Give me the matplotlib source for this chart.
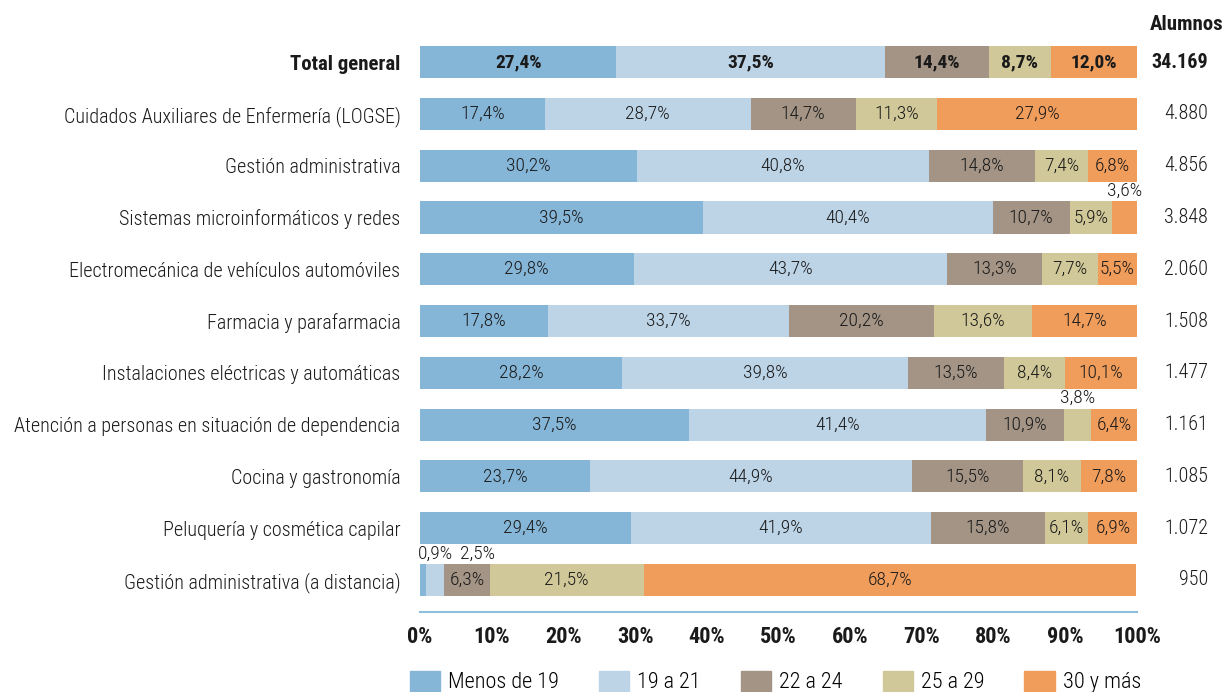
import numpy as np
import matplotlib
matplotlib.use('Agg')
import matplotlib.pyplot as plt
from matplotlib.patches import Patch

plt.rcParams['font.family'] = ['Roboto Condensed', 'Liberation Sans', 'DejaVu Sans']

categories = ['Total general',
              'Cuidados Auxiliares de Enfermería (LOGSE)',
              'Gestión administrativa',
              'Sistemas microinformáticos y redes',
              'Electromecánica de vehículos automóviles',
              'Farmacia y parafarmacia',
              'Instalaciones eléctricas y automáticas',
              'Atención a personas en situación de dependencia',
              'Cocina y gastronomía',
              'Peluquería y cosmética capilar',
              'Gestión administrativa (a distancia)']
alumnos = ['34.169', '4.880', '4.856', '3.848', '2.060', '1.508', '1.477',
           '1.161', '1.085', '1.072', '950']

groups = ['Menos de 19', '19 a 21', '22 a 24', '25 a 29', '30 y más']
menos19 = [27.4, 17.4, 30.2, 39.5, 29.8, 17.8, 28.2, 37.5, 23.7, 29.4, 0.9]
de19a21 = [37.5, 28.7, 40.8, 40.4, 43.7, 33.7, 39.8, 41.4, 44.9, 41.9, 2.5]
de22a24 = [14.4, 14.7, 14.8, 10.7, 13.3, 20.2, 13.5, 10.9, 15.5, 15.8, 6.3]
de25a29 = [8.7, 11.3, 7.4, 5.9, 7.7, 13.6, 8.4, 3.8, 8.1, 6.1, 21.5]
mas30 = [12.0, 27.9, 6.8, 3.6, 5.5, 14.7, 10.1, 6.4, 7.8, 6.9, 68.7]
colors = ['#86b6d7', '#bdd4e7', '#a39485', '#d0c898', '#f09d5c']

series = [menos19, de19a21, de22a24, de25a29, mas30]
fig = plt.figure(figsize=(12.26, 6.92), dpi=100)
ax = fig.add_axes([0.3426, 0.1156, 0.5848, 0.8394])

y = np.arange(len(categories))
left = np.zeros(len(categories))
txt = '#1a1a1a'
# offsets (points) for the crowded labels of the last row
shift_last = [9, 30]
for k, vals in enumerate(series):
    vals = np.array(vals)
    ax.barh(y, vals, left=left, height=0.62, color=colors[k], linewidth=0)
    for i, v in enumerate(vals):
        lab = f'{v:.1f}'.replace('.', ',') + '%'
        cx = left[i] + v / 2
        if v < 5:
            # small segments: label above the bar
            dx = shift_last[k] if i == len(categories) - 1 else 0
            ax.annotate(lab, (cx, y[i] - 0.31), xytext=(dx, 1), textcoords='offset points',
                        ha='center', va='bottom', fontsize=14, color=txt, fontweight=300)
        else:
            ax.text(cx, y[i], lab, ha='center', va='center', fontsize=14,
                    color=txt, fontweight='bold' if i == 0 else 300)
    left = left + vals

ax.set_xlim(0, 100)
ax.set_ylim(10.62, -0.6)
ax.set_yticks(y)
ax.set_yticklabels(categories, fontsize=14.5, color=txt, fontweight=300)
ax.get_yticklabels()[0].set_fontweight('bold')
ax.get_yticklabels()[0].set_fontsize(15)
ax.tick_params(axis='y', length=0, pad=14)
ax.set_xticks(np.arange(0, 101, 10))
ax.set_xticklabels([f'{t}%' for t in range(0, 101, 10)], fontsize=16,
                   fontweight='bold', color=txt)
ax.tick_params(axis='x', length=0, pad=10)
for s in ['top', 'right', 'left']:
    ax.spines[s].set_visible(False)
ax.spines['bottom'].set_color('#8dbfdc')
ax.spines['bottom'].set_linewidth(1.5)

trans = ax.get_yaxis_transform()
for i, n in enumerate(alumnos):
    ax.text(1.099, y[i], n, transform=trans, ha='right', va='center', fontsize=14.5,
            color=txt, fontweight='bold' if i == 0 else 300)
ax.text(1.121, -0.72, 'Alumnos', transform=trans, ha='right', va='center',
        fontsize=15, fontweight='bold', color=txt)

handles = [Patch(color=c, label=g) for c, g in zip(colors, groups)]
fig.legend(handles=handles, loc='center left', bbox_to_anchor=(410 / 1226, 0.0145), ncol=5,
           frameon=False, borderpad=0, borderaxespad=0,
           handlelength=1.36, handleheight=1.0, columnspacing=1.8, handletextpad=0.36,
           prop={'weight': 300, 'size': 16})

fig.savefig('out.png', dpi=100)
